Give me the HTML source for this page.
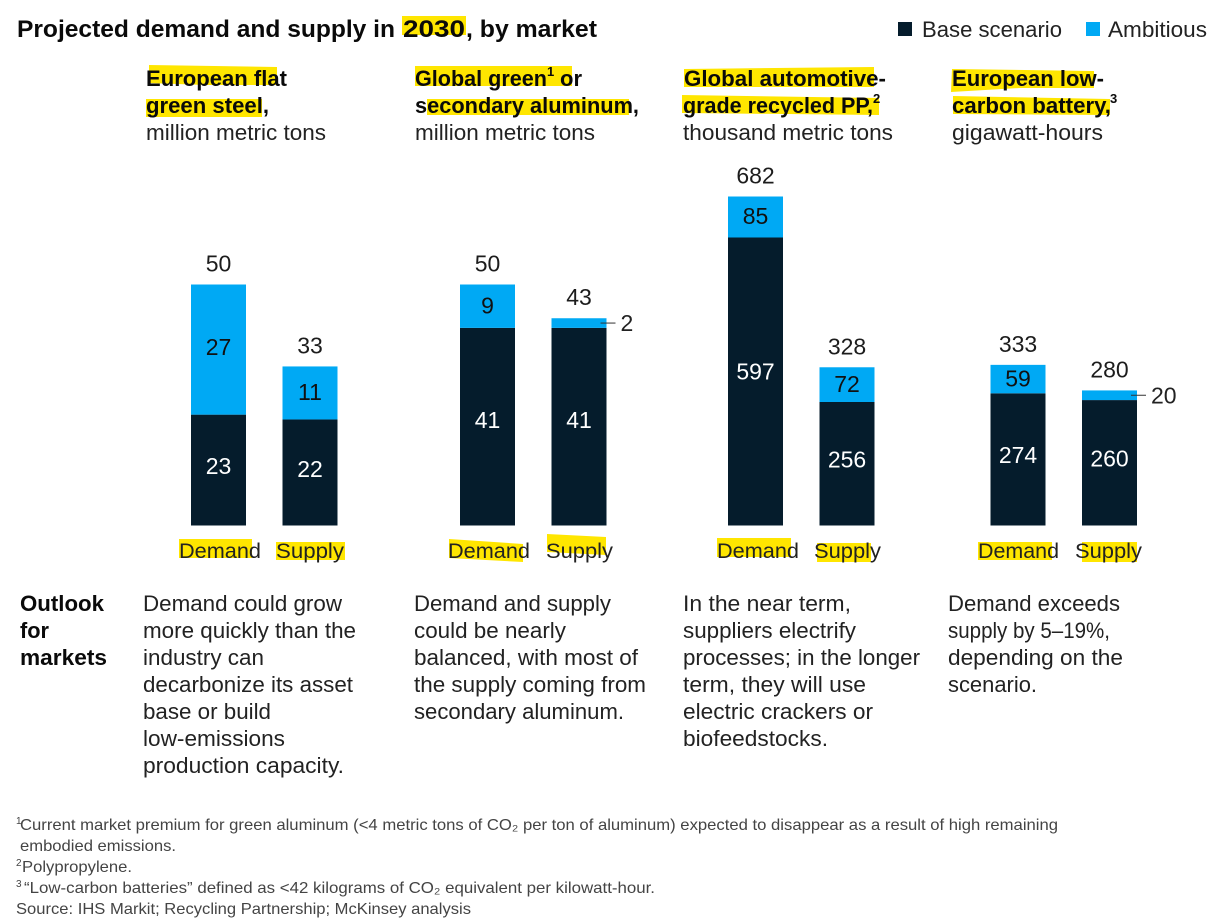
<!DOCTYPE html>
<html lang="en">
<head>
<meta charset="utf-8">
<title>Projected demand and supply in 2030, by market</title>
<style>
html,body{margin:0;padding:0;background:#fff;width:1213px;height:922px;overflow:hidden}
svg{display:block;font-family:"Liberation Sans",sans-serif}
text{fill:#1c1c1c}
.title{font-size:24px;font-weight:700;fill:#0a0a0a}
.head{font-size:22px;font-weight:700;fill:#0a0a0a}
.sup{font-size:13px;font-weight:700;fill:#0a0a0a}
.unit,.body,.legend{font-size:22px;fill:#222}
.outlook{font-size:22px;font-weight:700;fill:#0a0a0a}
.cat{font-size:21px;fill:#222}
.foot{font-size:16px;fill:#444}
.fsup{font-size:10px;fill:#444}
.val{font-size:23px;text-anchor:middle}
</style>
</head>
<body>
<svg id="chart" xmlns="http://www.w3.org/2000/svg" width="1213" height="922" viewBox="0 0 1213 922">
  <g fill="#FFE600">
    <rect x="402" y="16" width="64" height="19"/>
    <polygon points="149,65 277,67 277,85 205,85 149,83"/>
    <rect x="146" y="99" width="116" height="18"/>
    <rect x="415" y="66" width="157" height="20"/>
    <rect x="427" y="99" width="202" height="16"/>
    <polygon points="684,69 874,67 874,87 684,87"/>
    <polygon points="682,95 879,98 879,115 682,113"/>
    <polygon points="952,69 1094,71 1094,88 1020,88 951,92"/>
    <polygon points="953,96 1110,99 1110,115 953,114"/>
    <rect x="179" y="539" width="73" height="19"/>
    <rect x="276" y="542" width="69" height="18"/>
    <polygon points="449,539 523,544 523,562 449,558"/>
    <polygon points="547,534 606,537 606,555 547,552"/>
    <rect x="717" y="538" width="74" height="19"/>
    <rect x="817" y="543" width="54" height="19"/>
    <rect x="978" y="542" width="74" height="18"/>
    <rect x="1082" y="542" width="55" height="20"/>
  </g>

  <g>
    <text class="title" x="17" y="37" textLength="378" lengthAdjust="spacingAndGlyphs">Projected demand and supply in</text>
    <text class="title" x="403" y="37" textLength="62" lengthAdjust="spacingAndGlyphs">2030</text>
    <text class="title" x="466" y="37" textLength="131" lengthAdjust="spacingAndGlyphs">, by market</text>
  </g>

  <g>
    <rect x="898" y="22" width="14" height="14" fill="#051C2C"/>
    <text class="legend" x="922" y="37" textLength="140" lengthAdjust="spacingAndGlyphs">Base scenario</text>
    <rect x="1086" y="22" width="14" height="14" fill="#00A9F4"/>
    <text class="legend" x="1108" y="37" textLength="99" lengthAdjust="spacingAndGlyphs">Ambitious</text>
  </g>

  <g>
    <text class="head" x="146" y="86" textLength="141" lengthAdjust="spacingAndGlyphs">European flat</text>
    <text class="head" x="146" y="113" textLength="123" lengthAdjust="spacingAndGlyphs">green steel,</text>
    <text class="unit" x="146" y="140" textLength="180" lengthAdjust="spacingAndGlyphs">million metric tons</text>

    <text class="head" x="415" y="86" textLength="132" lengthAdjust="spacingAndGlyphs">Global green</text>
    <text class="sup" x="547" y="76">1</text>
    <text class="head" x="560" y="86" textLength="22" lengthAdjust="spacingAndGlyphs">or</text>
    <text class="head" x="415" y="113" textLength="224" lengthAdjust="spacingAndGlyphs">secondary aluminum,</text>
    <text class="unit" x="415" y="140" textLength="180" lengthAdjust="spacingAndGlyphs">million metric tons</text>

    <text class="head" x="684" y="86" textLength="202" lengthAdjust="spacingAndGlyphs">Global automotive-</text>
    <text class="head" x="683" y="113" textLength="190" lengthAdjust="spacingAndGlyphs">grade recycled PP,</text>
    <text class="sup" x="873" y="103">2</text>
    <text class="unit" x="683" y="140" textLength="210" lengthAdjust="spacingAndGlyphs">thousand metric tons</text>

    <text class="head" x="952" y="86" textLength="152" lengthAdjust="spacingAndGlyphs">European low-</text>
    <text class="head" x="952" y="113" textLength="159" lengthAdjust="spacingAndGlyphs">carbon battery,</text>
    <text class="sup" x="1110" y="103">3</text>
    <text class="unit" x="952" y="140" textLength="151" lengthAdjust="spacingAndGlyphs">gigawatt-hours</text>
  </g>

  <g id="marks"></g>

  <g>
    <text class="cat" x="179" y="558" textLength="82" lengthAdjust="spacingAndGlyphs">Demand</text>
    <text class="cat" x="276" y="558" textLength="68" lengthAdjust="spacingAndGlyphs">Supply</text>
    <text class="cat" x="448" y="558" textLength="82" lengthAdjust="spacingAndGlyphs">Demand</text>
    <text class="cat" x="546" y="558" textLength="67" lengthAdjust="spacingAndGlyphs">Supply</text>
    <text class="cat" x="717" y="558" textLength="82" lengthAdjust="spacingAndGlyphs">Demand</text>
    <text class="cat" x="814" y="558" textLength="67" lengthAdjust="spacingAndGlyphs">Supply</text>
    <text class="cat" x="978" y="558" textLength="81" lengthAdjust="spacingAndGlyphs">Demand</text>
    <text class="cat" x="1075" y="558" textLength="67" lengthAdjust="spacingAndGlyphs">Supply</text>
  </g>

  <g>
    <text class="outlook" x="20" y="611" textLength="84" lengthAdjust="spacingAndGlyphs">Outlook</text>
    <text class="outlook" x="20" y="638" textLength="29" lengthAdjust="spacingAndGlyphs">for</text>
    <text class="outlook" x="20" y="665" textLength="87" lengthAdjust="spacingAndGlyphs">markets</text>
  </g>

  <g>
    <text class="body" x="143" y="611" textLength="199" lengthAdjust="spacingAndGlyphs">Demand could grow</text>
    <text class="body" x="143" y="638" textLength="213" lengthAdjust="spacingAndGlyphs">more quickly than the</text>
    <text class="body" x="143" y="665" textLength="121" lengthAdjust="spacingAndGlyphs">industry can</text>
    <text class="body" x="143" y="692" textLength="210" lengthAdjust="spacingAndGlyphs">decarbonize its asset</text>
    <text class="body" x="143" y="719" textLength="128" lengthAdjust="spacingAndGlyphs">base or build</text>
    <text class="body" x="143" y="746" textLength="142" lengthAdjust="spacingAndGlyphs">low-emissions</text>
    <text class="body" x="143" y="773" textLength="201" lengthAdjust="spacingAndGlyphs">production capacity.</text>
  </g>
  <g>
    <text class="body" x="414" y="611" textLength="197" lengthAdjust="spacingAndGlyphs">Demand and supply</text>
    <text class="body" x="414" y="638" textLength="152" lengthAdjust="spacingAndGlyphs">could be nearly</text>
    <text class="body" x="414" y="665" textLength="224" lengthAdjust="spacingAndGlyphs">balanced, with most of</text>
    <text class="body" x="414" y="692" textLength="232" lengthAdjust="spacingAndGlyphs">the supply coming from</text>
    <text class="body" x="414" y="719" textLength="210" lengthAdjust="spacingAndGlyphs">secondary aluminum.</text>
  </g>
  <g>
    <text class="body" x="683" y="611" textLength="168" lengthAdjust="spacingAndGlyphs">In the near term,</text>
    <text class="body" x="683" y="638" textLength="173" lengthAdjust="spacingAndGlyphs">suppliers electrify</text>
    <text class="body" x="683" y="665" textLength="237" lengthAdjust="spacingAndGlyphs">processes; in the longer</text>
    <text class="body" x="683" y="692" textLength="183" lengthAdjust="spacingAndGlyphs">term, they will use</text>
    <text class="body" x="683" y="719" textLength="190" lengthAdjust="spacingAndGlyphs">electric crackers or</text>
    <text class="body" x="683" y="746" textLength="145" lengthAdjust="spacingAndGlyphs">biofeedstocks.</text>
  </g>
  <g>
    <text class="body" x="948" y="611" textLength="172" lengthAdjust="spacingAndGlyphs">Demand exceeds</text>
    <text class="body" x="948" y="638" textLength="162" lengthAdjust="spacingAndGlyphs">supply by 5–19%,</text>
    <text class="body" x="948" y="665" textLength="175" lengthAdjust="spacingAndGlyphs">depending on the</text>
    <text class="body" x="948" y="692" textLength="89" lengthAdjust="spacingAndGlyphs">scenario.</text>
  </g>

  <g>
    <text class="fsup" x="16" y="824">1</text>
    <text class="foot" x="20" y="830" textLength="1038" lengthAdjust="spacingAndGlyphs">Current market premium for green aluminum (&lt;4 metric tons of CO₂ per ton of aluminum) expected to disappear as a result of high remaining</text>
    <text class="foot" x="20" y="851" textLength="156" lengthAdjust="spacingAndGlyphs">embodied emissions.</text>
    <text class="fsup" x="16" y="866">2</text>
    <text class="foot" x="22" y="872" textLength="110" lengthAdjust="spacingAndGlyphs">Polypropylene.</text>
    <text class="fsup" x="16" y="887">3</text>
    <text class="foot" x="24" y="893" textLength="631" lengthAdjust="spacingAndGlyphs">“Low-carbon batteries” defined as &lt;42 kilograms of CO₂ equivalent per kilowatt-hour.</text>
    <text class="foot" x="16" y="914" textLength="455" lengthAdjust="spacingAndGlyphs">Source: IHS Markit; Recycling Partnership; McKinsey analysis</text>
  </g>
</svg>
<script>
// Chart data: one entry per market panel, [demand, supply] in each pair.
var markets = ['steel', 'aluminum', 'polypropylene', 'battery'];
var categories = ['demand', 'supply'];
var baseValues = [[23, 22], [41, 41], [597, 256], [274, 260]];
var ambitiousValues = [[27, 11], [9, 2], [85, 72], [59, 20]];
var totalLabels = [[50, 33], [50, 43], [682, 328], [333, 280]];
var axisMax = [50, 50, 682, 682];

// Layout
var BASELINE = 525.5, PLOT_HEIGHT = 241, BAR_WIDTH = 55;
var panelLeft = [191, 460, 728, 990.5];
var SUPPLY_OFFSET = 91.5, SMALL_SEGMENT = 24;
var BASE_COLOR = '#051C2C', AMBITIOUS_COLOR = '#00A9F4';
var NS = 'http://www.w3.org/2000/svg';
var root = document.getElementById('marks');

function scaleY(panel, value) {
  var unit = axisMax[panel] === 682 ? 329 / 682 : PLOT_HEIGHT / axisMax[panel];
  return BASELINE - value * unit;
}
function barX(panel, cat) {
  return panelLeft[panel] + cat * SUPPLY_OFFSET;
}
function addRect(x, y, h, fill) {
  var r = document.createElementNS(NS, 'rect');
  r.setAttribute('x', x);
  r.setAttribute('y', y);
  r.setAttribute('width', BAR_WIDTH);
  r.setAttribute('height', h);
  r.setAttribute('fill', fill);
  root.appendChild(r);
  return r;
}
function addText(x, y, str, fill, anchor) {
  var t = document.createElementNS(NS, 'text');
  t.setAttribute('class', 'val');
  t.setAttribute('x', x);
  t.setAttribute('y', y);
  t.setAttribute('style', 'fill:' + fill + (anchor ? ';text-anchor:' + anchor : ''));
  t.textContent = str;
  root.appendChild(t);
  return t;
}

markets.forEach(function (market, p) {
  categories.forEach(function (cat, c) {
    var x = barX(p, c), mid = x + BAR_WIDTH / 2;
    var base = baseValues[p][c], amb = ambitiousValues[p][c];
    var yBase = scaleY(p, base), yTop = scaleY(p, base + amb);
    var key = market + '-' + cat;

    var rb = addRect(x, yBase, BASELINE - yBase, BASE_COLOR);
    
    

    var ra = addRect(x, yTop, yBase - yTop, AMBITIOUS_COLOR);
    
    

    var tb = addText(mid, BASELINE - (BASELINE - yBase) * 0.535 + 8, base, '#fff');
    
    

    if (yBase - yTop >= SMALL_SEGMENT) {
      var ta = addText(mid, yTop + (yBase - yTop) * 0.48 + 8, amb, '#111');
      
      
    } else {
      var yc = (yTop + yBase) / 2;
      var l = document.createElementNS(NS, 'line');
      l.setAttribute('x1', x + BAR_WIDTH - 6);
      l.setAttribute('x2', x + BAR_WIDTH + 9);
      l.setAttribute('y1', yc);
      l.setAttribute('y2', yc);
      l.setAttribute('stroke', '#333');
      l.setAttribute('stroke-width', '1');
      
      
      root.appendChild(l);
      var tc = addText(x + BAR_WIDTH + 14, yc + 8, amb, '#222', 'start');
      
      
    }

    var tt = addText(mid, yTop - 13, totalLabels[p][c], '#1c1c1c');
    
    
  });
});
</script>
</body>
</html>
